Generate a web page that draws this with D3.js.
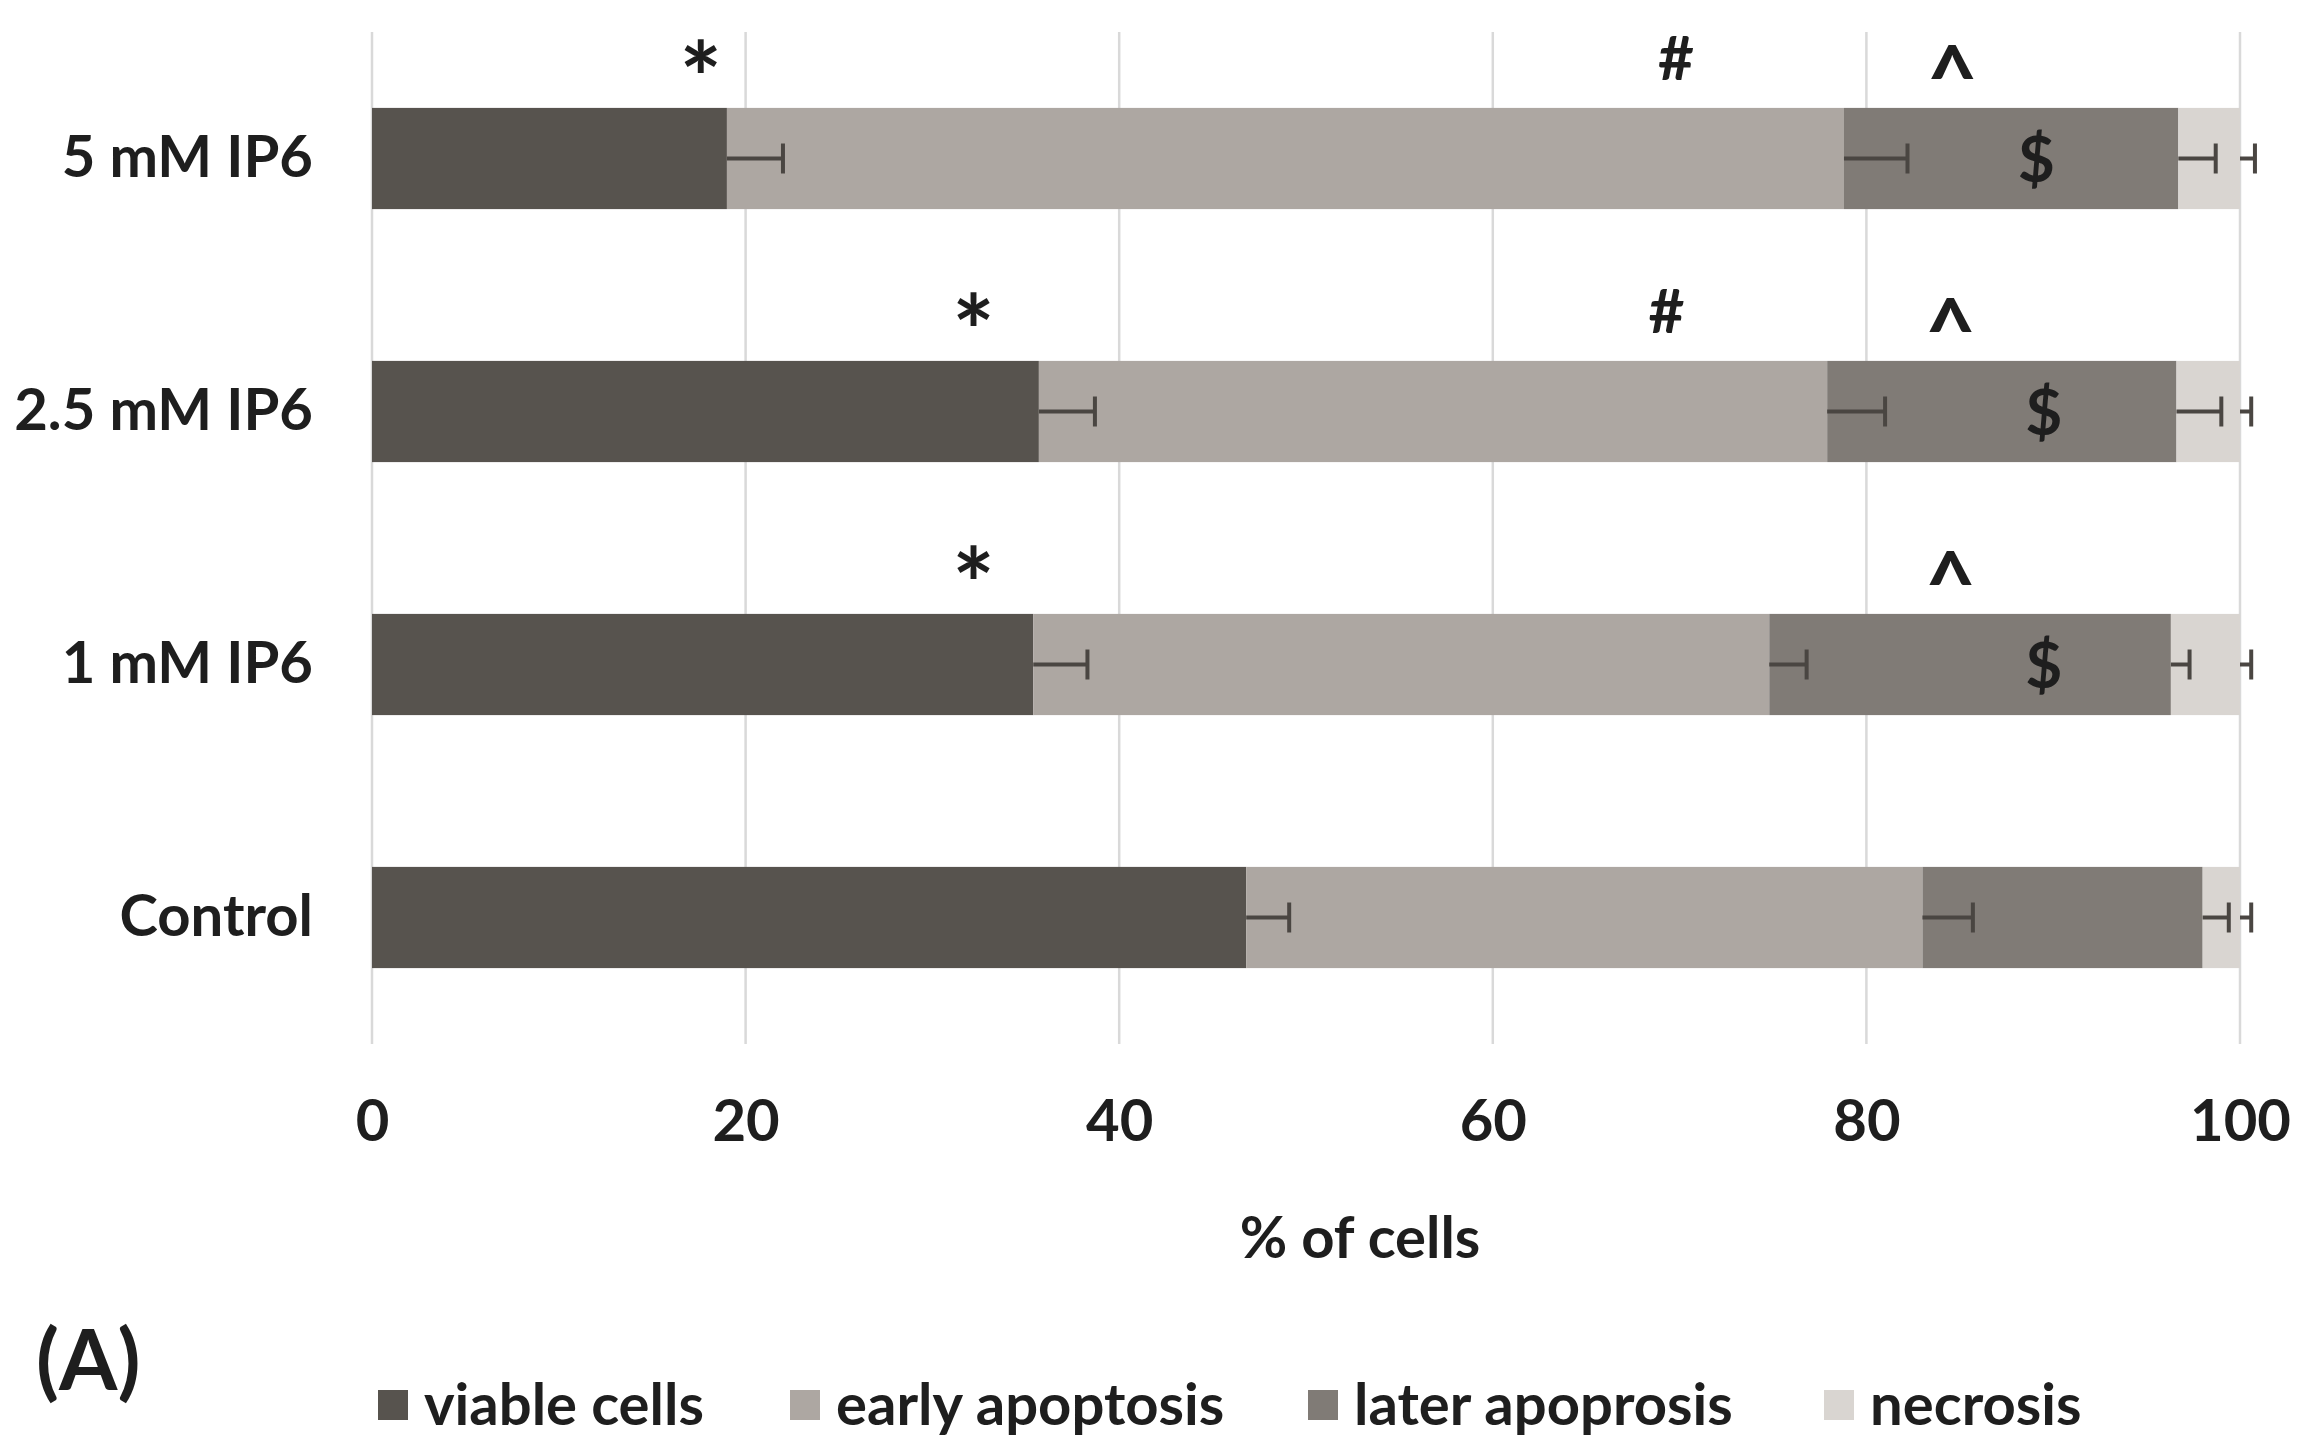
<!DOCTYPE html>
<html><head><meta charset="utf-8">
<script src="https://cdn.jsdelivr.net/npm/d3@7/dist/d3.min.js"></script>
<style>
html,body{margin:0;padding:0;background:#fff;}
text{font-family:Lato,"Open Sans",sans-serif;font-weight:700;fill:#1e1e1e;}
</style></head>
<body>
<svg id="chart" width="2306" height="1451"></svg>
<script>
const categories = ["5 mM IP6", "2.5 mM IP6", "1 mM IP6", "Control"];
const seriesNames = ["viable cells", "early apoptosis", "later apoprosis", "necrosis"];
const viable   = [19.0, 35.7, 35.4, 46.8];
const early    = [59.8, 42.2, 39.4, 36.2];
const later    = [17.9, 18.7, 21.5, 15.0];
const necrosis = [3.3, 3.4, 3.7, 2.0];
const errViable   = [3.0, 3.0, 2.9, 2.3];
const errEarly    = [3.4, 3.1, 2.0, 2.7];
const errLater    = [2.0, 2.4, 1.0, 1.4];
const errNecrosis = [0.8, 0.6, 0.6, 0.6];
const xTicks = [0, 20, 40, 60, 80, 100];
const markAbove = [
  {cat: "5 mM IP6", sym: "*", x: 17.6},
  {cat: "5 mM IP6", sym: "#", x: 69.8},
  {cat: "5 mM IP6", sym: "^", x: 84.6},
  {cat: "2.5 mM IP6", sym: "*", x: 32.2},
  {cat: "2.5 mM IP6", sym: "#", x: 69.3},
  {cat: "2.5 mM IP6", sym: "^", x: 84.5},
  {cat: "1 mM IP6", sym: "*", x: 32.2},
  {cat: "1 mM IP6", sym: "^", x: 84.5}
];
const markInside = [
  {cat: "5 mM IP6", sym: "$", x: 89.1},
  {cat: "2.5 mM IP6", sym: "$", x: 89.5},
  {cat: "1 mM IP6", sym: "$", x: 89.5}
];
const colors = ["#57534e", "#ada7a2", "#807b76", "#d9d5d1"];

const series = [viable, early, later, necrosis];
const errs = [errViable, errEarly, errLater, errNecrosis];
const symSize = {"*": 100, "#": 62, "^": 88, "$": 64};
const symDy = {"*": "0.69em", "#": "0.55em", "^": "0.72em", "$": "0.36em"};

const svg = d3.select("#chart");
const W = 2306, H = 1451;
svg.append("rect").attr("width", W).attr("height", H).attr("fill", "#fff");

const x = d3.scaleLinear().domain([0, 100]).range([372, 2240]);
const y = d3.scaleBand().domain(categories).range([32, 1044]).paddingInner(0.6).paddingOuter(0.3);

// gridlines
svg.append("g").selectAll("line").data(xTicks).join("line")
  .attr("x1", d => x(d)).attr("x2", d => x(d))
  .attr("y1", 32).attr("y2", 1044)
  .attr("stroke", "#d9d9d9").attr("stroke-width", 2.5);

// stacked data
const rows = categories.map((c, i) => {
  const o = {cat: c};
  seriesNames.forEach((s, j) => o[s] = series[j][i]);
  return o;
});
const stack = d3.stack().keys(seriesNames)(rows);

const g = svg.append("g");
stack.forEach((layer, j) => {
  g.append("g").attr("fill", colors[j]).selectAll("rect").data(layer).join("rect")
    .attr("x", d => x(d[0]))
    .attr("width", d => x(d[1]) - x(d[0]))
    .attr("y", d => y(d.data.cat))
    .attr("height", y.bandwidth());
});

// error bars (plus direction)
const eg = svg.append("g").attr("stroke", "#4a4642").attr("stroke-width", 4);
stack.forEach((layer, j) => {
  layer.forEach((d, i) => {
    const cy = y(d.data.cat) + y.bandwidth() / 2;
    const x1 = x(d[1]), x2 = x(d[1] + errs[j][i]);
    eg.append("line").attr("x1", x1).attr("x2", x2).attr("y1", cy).attr("y2", cy);
    eg.append("line").attr("x1", x2).attr("x2", x2).attr("y1", cy - 15).attr("y2", cy + 15);
  });
});

const fontStyle = sel => sel.style("font-family", "Lato, 'Open Sans', sans-serif")
  .style("font-weight", 700).attr("fill", "#1e1e1e");

// x axis labels
const xAxis = d3.axisBottom(x).tickValues(xTicks).tickSize(0).tickPadding(0);
const xa = svg.append("g").attr("transform", "translate(0,1099)").call(xAxis);
xa.select(".domain").remove();
xa.selectAll("text").attr("font-size", 58).attr("dy", "0.72em").call(fontStyle);

// y axis labels
const yAxis = d3.axisLeft(y).tickSize(0).tickPadding(0);
const ya = svg.append("g").attr("transform", "translate(313,0)").call(yAxis);
ya.select(".domain").remove();
ya.selectAll("text").attr("font-size", 58).call(fontStyle);

// axis title
svg.append("text").attr("x", 1360).attr("y", 1238).attr("dy", "0.35em")
  .attr("text-anchor", "middle").attr("font-size", 58).text("% of cells");

// panel label
svg.append("text").attr("x", 36).attr("y", 1360).attr("dy", "0.36em")
  .attr("font-size", 84).text("(A)");

// significance marks
svg.append("g").selectAll("text").data(markAbove).join("text")
  .attr("x", d => x(d.x)).attr("y", d => y(d.cat) - 62).attr("dy", d => symDy[d.sym])
  .attr("text-anchor", "middle").attr("font-size", d => symSize[d.sym]).text(d => d.sym);
svg.append("g").selectAll("text").data(markInside).join("text")
  .attr("x", d => x(d.x)).attr("y", d => y(d.cat) + y.bandwidth() / 2).attr("dy", d => symDy[d.sym])
  .attr("text-anchor", "middle").attr("font-size", d => symSize[d.sym]).text(d => d.sym);

// legend
const legX = [378, 790, 1308, 1824];
const lg = svg.append("g");
seriesNames.forEach((s, j) => {
  lg.append("rect").attr("x", legX[j]).attr("y", 1405 - 15).attr("width", 30).attr("height", 30).attr("fill", colors[j]);
  lg.append("text").attr("x", legX[j] + 46).attr("y", 1405).attr("dy", "0.35em")
    .attr("font-size", 58).text(s);
});
</script>
</body></html>
